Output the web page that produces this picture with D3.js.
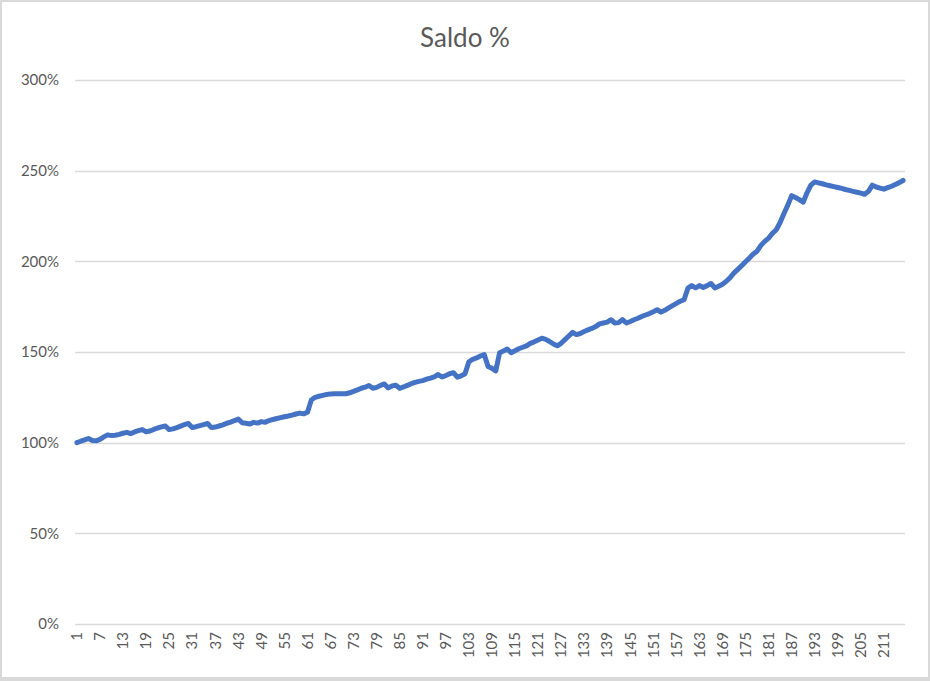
<!DOCTYPE html>
<html>
<head>
<meta charset="utf-8">
<script src="https://cdn.jsdelivr.net/npm/d3@7"></script>
<style>
  html, body { margin: 0; padding: 0; background: #fff; }
  svg { display: block; }
</style>
</head>
<body>
<div id="chart"></div>
<script>
const title = "Saldo %";
const yTicks = [0, 50, 100, 150, 200, 250, 300];
const saldo = [
  100.0, 100.8, 101.5, 102.3, 101.2, 101.0, 101.8, 103.2, 104.3, 103.9,
  104.1, 104.6, 105.2, 105.7, 105.0, 105.9, 106.6, 107.2, 106.0, 106.4,
  107.3, 108.1, 108.7, 109.2, 107.2, 107.6, 108.3, 109.1, 110.0, 110.6,
  108.4, 108.8, 109.4, 110.0, 110.6, 108.3, 108.6, 109.2, 109.8, 110.7,
  111.3, 112.2, 113.0, 111.0, 110.7, 110.3, 111.2, 110.8, 111.6, 111.2,
  112.2, 112.8, 113.3, 113.8, 114.3, 114.7, 115.2, 115.8, 116.3, 115.9,
  116.8, 123.5, 125.0, 125.6, 126.1, 126.6, 126.9, 127.0, 127.0, 127.0,
  127.0, 127.5, 128.3, 129.1, 130.0, 130.6, 131.5, 130.0, 130.5, 131.6,
  132.4, 130.2, 131.3, 131.7, 130.0, 130.7, 131.6, 132.5, 133.2, 133.8,
  134.2, 135.0, 135.6, 136.3, 137.6, 136.2, 137.0, 138.0, 138.6, 136.1,
  136.8, 138.0, 144.6, 146.0, 146.7, 147.8, 148.6, 142.0, 141.0, 139.6,
  149.6, 150.6, 151.6, 149.6, 150.7, 151.8, 152.6, 153.4, 154.8, 155.6,
  156.6, 157.6, 157.0, 155.8, 154.4, 153.4, 154.8, 156.8, 158.8, 160.8,
  159.6, 160.2, 161.3, 162.2, 163.0, 164.0, 165.5, 166.0, 166.5, 167.8,
  166.0, 166.2, 167.9, 166.0, 166.8, 167.8, 168.6, 169.6, 170.4, 171.2,
  172.2, 173.3, 172.0, 173.0, 174.3, 175.6, 176.8, 178.0, 178.8, 185.2,
  186.6, 185.4, 186.6, 185.6, 186.6, 187.8, 185.3, 186.3, 187.4, 189.0,
  191.0, 193.6, 195.6, 197.6, 199.8, 201.8, 204.0, 205.6, 208.8, 211.0,
  212.8, 215.4, 217.4, 221.4, 226.4, 231.0, 236.2, 235.2, 234.0, 232.6,
  237.8, 242.0, 243.8, 243.3, 242.8, 242.2, 241.7, 241.2, 240.7, 240.2,
  239.6, 239.1, 238.6, 238.1, 237.6, 237.0, 238.6, 242.0, 241.0, 240.4,
  239.8, 240.6, 241.4, 242.4, 243.4, 244.6
];
const categories = saldo.map((d, i) => String(i + 1));
const xTickLabels = categories.filter((c, i) => i % 6 === 0);

const W = 930, H = 681;
const plot = { left: 75, right: 905, top: 80, bottom: 624 };

const svg = d3.select("#chart").append("svg")
  .attr("width", W).attr("height", H);

svg.append("rect").attr("x", 0).attr("y", 0).attr("width", W).attr("height", H)
  .attr("fill", "#D9D9D9");
svg.append("rect").attr("x", 2).attr("y", 2).attr("width", W - 4).attr("height", H - 6)
  .attr("fill", "#ffffff");

const x = d3.scaleBand().domain(categories)
  .range([plot.left, plot.right]).paddingInner(0).paddingOuter(0);
const y = d3.scaleLinear().domain([0, 300]).range([plot.bottom, plot.top]);

const font = "Lato, 'Open Sans', 'Liberation Sans', sans-serif";

// gridlines
svg.append("g").selectAll("line").data(yTicks).join("line")
  .attr("x1", plot.left).attr("x2", plot.right)
  .attr("y1", d => Math.round(y(d)) + 0.5).attr("y2", d => Math.round(y(d)) + 0.5)
  .attr("stroke", "#D9D9D9").attr("stroke-width", 1.3);

// y axis labels
const yAxis = d3.axisLeft(y).tickValues(yTicks).tickFormat(d => d + "%").tickSize(0).tickPadding(0);
const gy = svg.append("g").attr("transform", `translate(${plot.left - 16},0)`).call(yAxis);
gy.select(".domain").remove();
gy.selectAll("text").attr("font-family", font).attr("font-size", 15).attr("fill", "#595959");

// x axis labels
const xAxis = d3.axisBottom(x).tickValues(xTickLabels).tickSize(0).tickPadding(0);
const gx = svg.append("g").attr("transform", `translate(0,${plot.bottom})`).call(xAxis);
gx.select(".domain").remove();
gx.selectAll("text")
  .attr("font-family", font).attr("font-size", 15).attr("fill", "#595959")
  .attr("transform", "rotate(-90)")
  .attr("text-anchor", "end")
  .attr("x", -8).attr("y", 0).attr("dy", "0.35em");

// line
const line = d3.line()
  .x((d, i) => x(categories[i]) + x.bandwidth() / 2)
  .y(d => y(d));
svg.append("path").datum(saldo)
  .attr("d", line)
  .attr("fill", "none")
  .attr("stroke", "#4472C4")
  .attr("stroke-width", 5)
  .attr("stroke-linejoin", "round")
  .attr("stroke-linecap", "round");

// title
svg.append("text").attr("x", 465).attr("y", 47)
  .attr("text-anchor", "middle")
  .attr("font-family", font).attr("font-size", 26).attr("fill", "#595959")
  .text(title);
</script>
</body>
</html>
